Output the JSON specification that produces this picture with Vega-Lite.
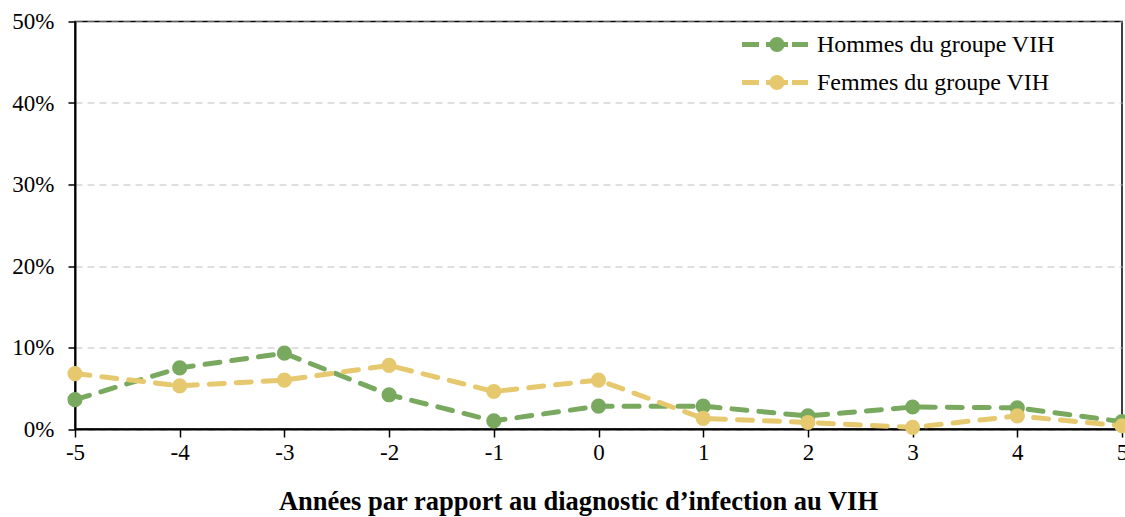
{
  "$schema": "https://vega.github.io/schema/vega-lite/v6.json",
  "autosize": "none",
  "width": 1047,
  "height": 407.5,
  "padding": {"left": 75, "top": 21.5, "right": 3, "bottom": 88},
  "background": "white",
  "config": {
    "view": {"stroke": "black", "strokeWidth": 1.5},
    "font": "Liberation Serif"
  },
  "data": {
    "values": [
      {"annee": -5, "groupe": "Hommes du groupe VIH", "taux": 0.036},
      {"annee": -4, "groupe": "Hommes du groupe VIH", "taux": 0.075},
      {"annee": -3, "groupe": "Hommes du groupe VIH", "taux": 0.093},
      {"annee": -2, "groupe": "Hommes du groupe VIH", "taux": 0.042},
      {"annee": -1, "groupe": "Hommes du groupe VIH", "taux": 0.010},
      {"annee": 0, "groupe": "Hommes du groupe VIH", "taux": 0.028},
      {"annee": 1, "groupe": "Hommes du groupe VIH", "taux": 0.028},
      {"annee": 2, "groupe": "Hommes du groupe VIH", "taux": 0.016},
      {"annee": 3, "groupe": "Hommes du groupe VIH", "taux": 0.027},
      {"annee": 4, "groupe": "Hommes du groupe VIH", "taux": 0.026},
      {"annee": 5, "groupe": "Hommes du groupe VIH", "taux": 0.009},
      {"annee": -5, "groupe": "Femmes du groupe VIH", "taux": 0.068},
      {"annee": -4, "groupe": "Femmes du groupe VIH", "taux": 0.053},
      {"annee": -3, "groupe": "Femmes du groupe VIH", "taux": 0.060},
      {"annee": -2, "groupe": "Femmes du groupe VIH", "taux": 0.078},
      {"annee": -1, "groupe": "Femmes du groupe VIH", "taux": 0.046},
      {"annee": 0, "groupe": "Femmes du groupe VIH", "taux": 0.060},
      {"annee": 1, "groupe": "Femmes du groupe VIH", "taux": 0.013},
      {"annee": 2, "groupe": "Femmes du groupe VIH", "taux": 0.008},
      {"annee": 3, "groupe": "Femmes du groupe VIH", "taux": 0.002},
      {"annee": 4, "groupe": "Femmes du groupe VIH", "taux": 0.016},
      {"annee": 5, "groupe": "Femmes du groupe VIH", "taux": 0.004}
    ]
  },
  "encoding": {
    "x": {
      "field": "annee", "type": "quantitative",
      "scale": {"domain": [-5, 5], "nice": false, "zero": false},
      "axis": {
        "values": [-5, -4, -3, -2, -1, 0, 1, 2, 3, 4, 5],
        "labelExpr": "'' + datum.value", "grid": false,
        "domainColor": "black", "domainWidth": 2,
        "tickColor": "black", "tickWidth": 1.5, "tickSize": 8,
        "labelFont": "Liberation Serif", "labelFontSize": 23, "labelColor": "black",
        "labelPadding": 4, "labelFlush": false, "labelOverlap": false,
        "title": "Années par rapport au diagnostic d’infection au VIH",
        "titleFont": "Liberation Serif", "titleFontSize": 26.5, "titleFontWeight": "bold",
        "titleColor": "black", "titleX": 503, "titleY": 80, "titleAlign": "center",
        "titleBaseline": "alphabetic"
      }
    },
    "y": {
      "field": "taux", "type": "quantitative",
      "scale": {"domain": [0, 0.5], "nice": false},
      "axis": {
        "values": [0, 0.1, 0.2, 0.3, 0.4, 0.5],
        "format": ".0%", "title": null,
        "grid": true, "gridColor": "#bfbfbf", "gridDash": [7, 5], "gridWidth": 1.2,
        "domainColor": "black", "domainWidth": 2,
        "tickColor": "black", "tickWidth": 1.5, "tickSize": 7,
        "labelFont": "Liberation Serif", "labelFontSize": 23, "labelColor": "black",
        "labelPadding": 14
      }
    }
  },
  "layer": [
    {
      "mark": {"type": "line", "strokeWidth": 5, "strokeDash": [15, 12], "strokeCap": "round"},
      "encoding": {
        "color": {
          "field": "groupe", "type": "nominal", "legend": null,
          "scale": {
            "domain": ["Hommes du groupe VIH", "Femmes du groupe VIH"],
            "range": ["#79A95F", "#E6C86E"]
          }
        }
      }
    },
    {
      "mark": {"type": "point", "filled": true, "size": 230, "opacity": 1},
      "encoding": {
        "color": {
          "field": "groupe", "type": "nominal",
          "scale": {
            "domain": ["Hommes du groupe VIH", "Femmes du groupe VIH"],
            "range": ["#79A95F", "#E6C86E"]
          },
          "legend": {
            "title": null, "orient": "none", "legendX": 688, "legendY": 11,
            "padding": 0, "rowPadding": 14,
            "labelFont": "Liberation Serif", "labelFontSize": 24, "labelColor": "black",
            "labelOffset": 30, "labelLimit": 500,
            "symbolSize": 400, "symbolStrokeWidth": 0,
            "symbolType": "M-3.3,-0.25H-1.6V0.25H-3.3Z M-0.9,-0.25H1.3V0.25H-0.9Z M0.95,0A0.75,0.75 0 1,1 -0.55,0A0.75,0.75 0 1,1 0.95,0Z M1.7,-0.25H3.3V0.25H1.7Z"
          }
        }
      }
    }
  ],
  "resolve": {"legend": {"color": "independent"}}
}
